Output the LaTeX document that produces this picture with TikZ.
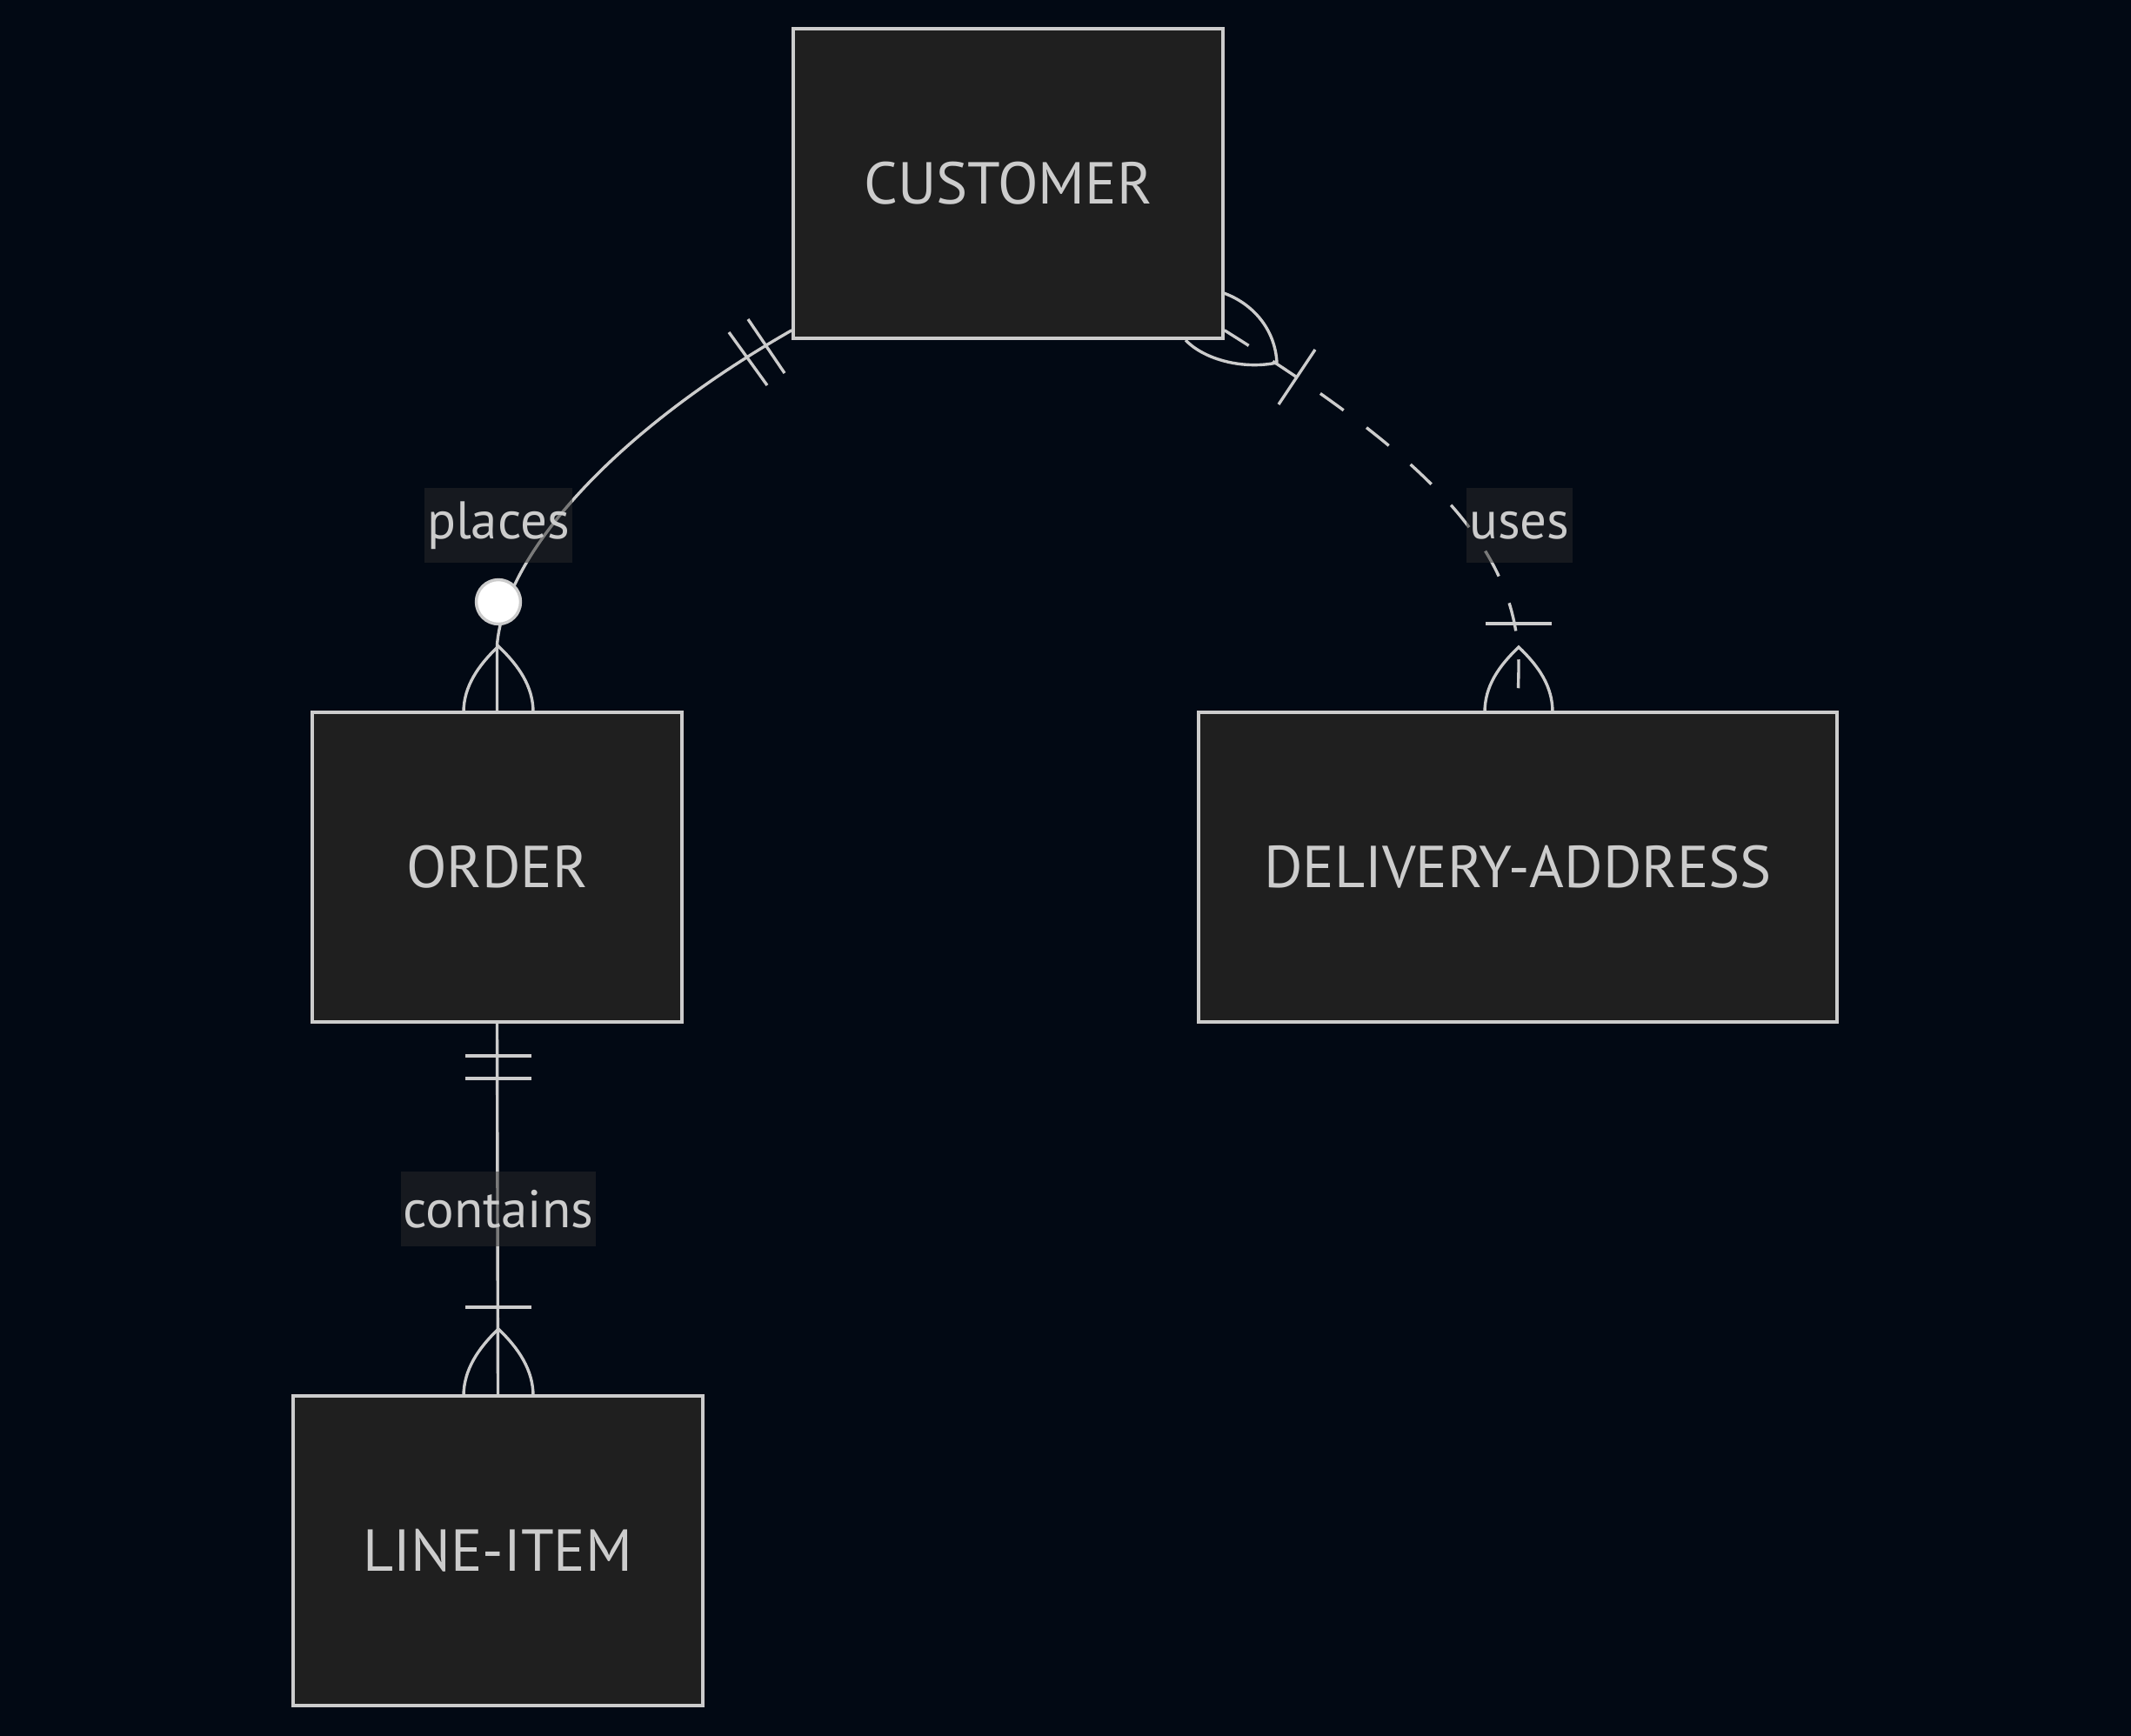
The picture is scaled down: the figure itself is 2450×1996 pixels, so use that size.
\documentclass[tikz,border=0pt]{standalone}
\usepackage{fontspec}
\setmainfont{PT Sans}
\usepackage{tikz}
\usepackage{xcolor}
\usetikzlibrary{positioning}

\definecolor{bg}{HTML}{020914}
\definecolor{boxfill}{HTML}{1F1F1F}
\definecolor{edge}{HTML}{CCCCCC}
\definecolor{lblfill}{HTML}{2A2A2A}

\begin{document}
\begin{tikzpicture}[x=1pt, y=-1pt,
    entity/.style={draw=edge, fill=boxfill, line width=3.5pt, minimum height=356pt,
        text=edge, font=\fontsize{68}{80}\selectfont},
    er/.style={draw=edge, line width=3.4pt},
    rel/.style={fill=lblfill, fill opacity=0.5, text opacity=1, text=edge, inner xsep=3pt,
        minimum height=86pt, font=\fontsize{61}{72}\selectfont}]
        \fill[bg] (0,0) rectangle (2450,1996);
        \useasboundingbox (0,0) rectangle (2450,1996);
        \node[entity, minimum width=494pt] (cust) at (1159,211) {CUSTOMER};
        \node[entity, minimum width=425pt] (ord) at (571.5,997) {ORDER};
        \node[entity, minimum width=734pt] (addr) at (1745,997) {DELIVERY-ADDRESS};
        \node[entity, minimum width=471pt] (item) at (572.5,1783) {LINE-ITEM};
        % connectors
        \draw[er] (ord.north) -- ++(0,-76) .. controls (580,640) and (700,500) .. ([yshift=11pt]cust.south west);
        \draw[er, dash pattern=on 33pt off 33pt] ([yshift=11pt]cust.south east) .. controls (1640,525) and (1748,630) .. (1746,770) -- (addr.north);
        \draw[er] (ord.south) -- (item.north);
        \node[rel] (places) at (573,604) {places};
        \node[rel] (uses) at (1747,604) {uses};
        \node[rel] (contains) at (573,1390) {contains};
        % markers
        \draw[er] (838,382) -- (882,443) (860,367) -- (902,429);
        \draw[er] (1468,417) .. controls (1466,378) and (1440,349) .. (1407,337);
        \draw[er] (1468,417) .. controls (1430,425) and (1385,414) .. (1363,391);
        \draw[er] (1470,465) -- (1512,402);
        \node[circle, draw=edge, fill=white, line width=3.4pt, minimum size=51pt, inner sep=0pt] (zero) at (573,692) {};
        \draw[er] (533,819) .. controls +(0,-30) and +(-23,22) .. (573,743) .. controls +(23,22) and +(0,-30) .. (613,819);
        \draw[er] (1708,717) -- (1784,717);
        \draw[er] (1707,819) .. controls +(0,-30) and +(-23,22) .. (1746,744) .. controls +(23,22) and +(0,-30) .. (1785,819);
        \draw[er] (535,1214) -- (611,1214) (535,1240) -- (611,1240);
        \draw[er] (535,1503) -- (611,1503);
        \draw[er] (533,1605) .. controls +(0,-30) and +(-23,22) .. (573,1528) .. controls +(23,22) and +(0,-30) .. (613,1605);
    \end{tikzpicture}
\end{document}
